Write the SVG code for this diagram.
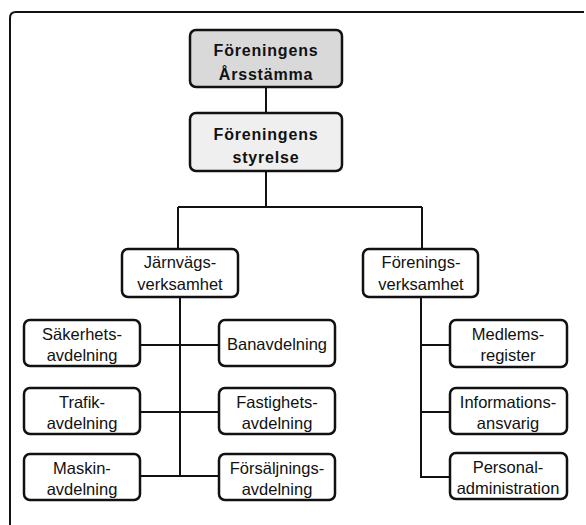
<svg xmlns="http://www.w3.org/2000/svg" width="586" height="525" viewBox="0 0 586 525">
<style>
.box{fill:#fff;stroke:#111;stroke-width:2.5}
.top{fill:#d9d9d9}
.board{fill:#efefef}
.ln{fill:none;stroke:#111;stroke-width:2}
text{font-family:"Liberation Sans",Arial,sans-serif;font-size:16.5px;fill:#111;text-anchor:middle}
.b{font-weight:bold;font-size:16px;letter-spacing:0.8px}
</style>
<rect width="586" height="525" fill="#fff"/>
<path class="ln" d="M10 525 V18 Q10 12 16 12 H584"/>
<g id="connectors">
<path class="ln" d="M266 87 V113 M266 171 V207 M178 207 H422 M178 207 V249 M422 207 V249"/>
<path class="ln" d="M180 297 V476 M140 345 H219 M140 412 H219 M140 476 H219"/>
<path class="ln" d="M421 297 V477 H450 M421 345 H450 M421 412 H450"/>
</g>
<g id="arsstamma"><rect class="box top" x="190" y="30" width="152" height="57" rx="6"/><text class="b" x="266" y="56">Föreningens</text><text class="b" x="266" y="80">Årsstämma</text></g>
<g id="styrelse"><rect class="box board" x="190" y="113" width="152" height="58" rx="6"/><text class="b" x="266" y="140">Föreningens</text><text class="b" x="266" y="163">styrelse</text></g>
<g id="jarnvags"><rect class="box" x="122" y="249" width="116" height="48" rx="6"/><text x="180" y="268">Järnvägs-</text><text x="180" y="290">verksamhet</text></g>
<g id="forenings"><rect class="box" x="363" y="249" width="115" height="48" rx="6"/><text x="421" y="268">Förenings-</text><text x="421" y="290">verksamhet</text></g>
<g id="sakerhets"><rect class="box" x="24" y="320" width="116" height="46" rx="6"/><text x="82" y="340">Säkerhets-</text><text x="82" y="361">avdelning</text></g>
<g id="trafik"><rect class="box" x="24" y="388" width="116" height="46" rx="6"/><text x="82" y="408">Trafik-</text><text x="82" y="429">avdelning</text></g>
<g id="maskin"><rect class="box" x="24" y="454" width="116" height="46" rx="6"/><text x="82" y="474">Maskin-</text><text x="82" y="495">avdelning</text></g>
<g id="banavdelning"><rect class="box" x="219" y="320" width="116" height="46" rx="6"/><text x="277" y="350">Banavdelning</text></g>
<g id="fastighets"><rect class="box" x="219" y="388" width="116" height="46" rx="6"/><text x="277" y="408">Fastighets-</text><text x="277" y="429">avdelning</text></g>
<g id="forsaljnings"><rect class="box" x="219" y="454" width="116" height="46" rx="6"/><text x="277" y="474">Försäljnings-</text><text x="277" y="495">avdelning</text></g>
<g id="medlems"><rect class="box" x="450" y="320" width="117" height="47" rx="6"/><text x="508" y="340">Medlems-</text><text x="508" y="361">register</text></g>
<g id="informations"><rect class="box" x="450" y="388" width="117" height="46" rx="6"/><text x="508" y="408">Informations-</text><text x="508" y="429">ansvarig</text></g>
<g id="personal"><rect class="box" x="450" y="453" width="117" height="46" rx="6"/><text x="508" y="473">Personal-</text><text x="508" y="494">administration</text></g>
</svg>
